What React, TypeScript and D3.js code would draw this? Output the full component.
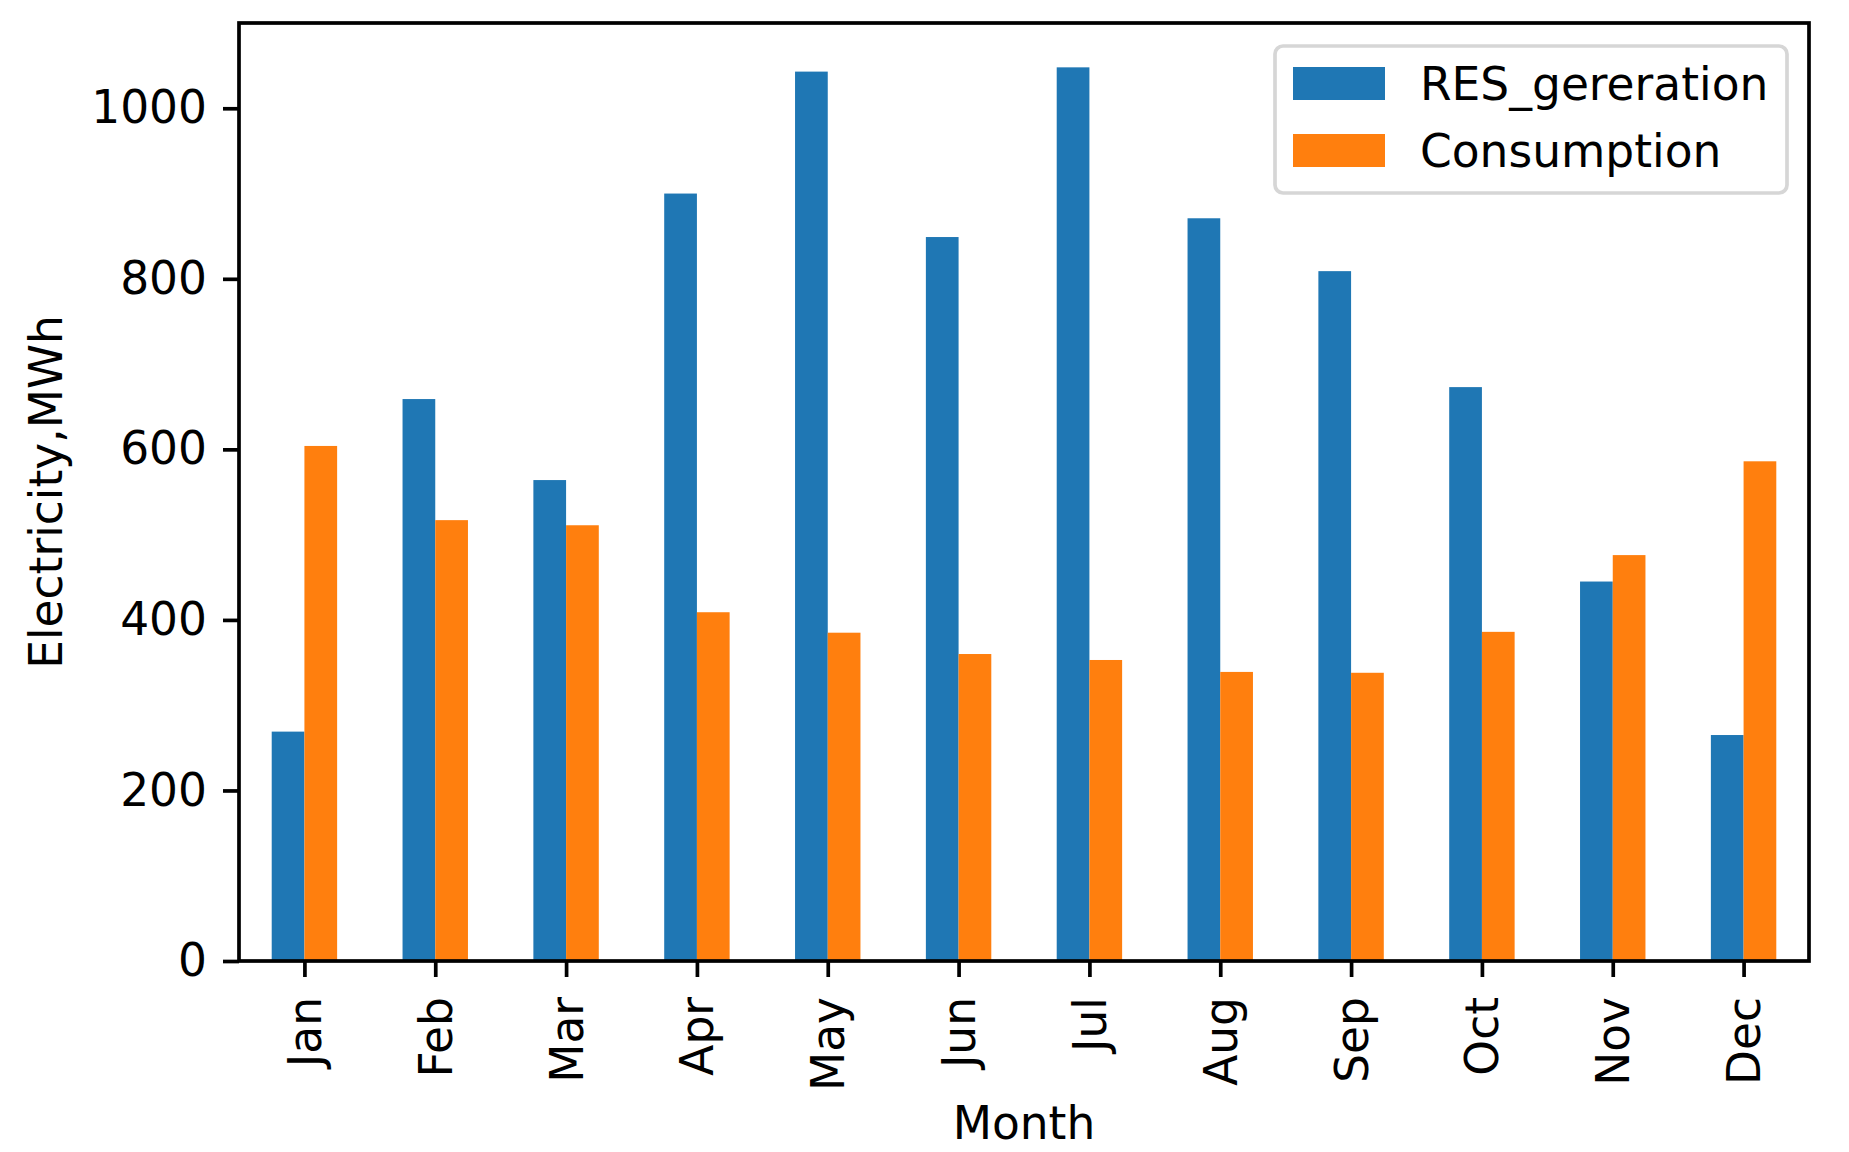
import { useEffect, useRef } from "react";
import * as d3 from "d3";

const months = ["Jan", "Feb", "Mar", "Apr", "May", "Jun", "Jul", "Aug", "Sep", "Oct", "Nov", "Dec"];
const resGeneration = [269, 659, 564, 900, 1043, 849, 1048, 871, 809, 673, 445, 265];
const consumption = [604, 517, 511, 409, 385, 360, 353, 339, 338, 386, 476, 586];
const seriesNames = ["RES_gereration", "Consumption"];
const seriesColors = ["#1f77b4", "#ff7f0e"];
const yTicks = [0, 200, 400, 600, 800, 1000];

const width = 1849;
const height = 1152;
const margin = { top: 23, right: 40, bottom: 191, left: 239 };
const font = "'DejaVu Sans', sans-serif";
const fontSize = 45.5;

export default function App() {
  const svgRef = useRef<SVGSVGElement>(null);

  useEffect(() => {
    if (!svgRef.current) return;
    const svg = d3.select(svgRef.current).attr("width", width).attr("height", height);
    svg.selectAll("*").remove();

    const innerWidth = width - margin.left - margin.right;
    const innerHeight = height - margin.top - margin.bottom;

    // pandas style: categories at 0..11, xlim -0.5..11.5, total bar width 0.5
    const x = d3.scaleLinear().domain([-0.5, months.length - 0.5]).range([0, innerWidth]);
    const y = d3.scaleLinear().domain([0, 1100]).range([innerHeight, 0]);
    const barW = x(0.25) - x(0);

    const g = svg.append("g").attr("transform", `translate(${margin.left},${margin.top})`);

    const series = [resGeneration, consumption];
    series.forEach((vals, si) => {
      g.append("g")
        .selectAll("rect")
        .data(vals)
        .join("rect")
        .attr("x", (_, i) => x(i) - barW + si * barW)
        .attr("y", (d) => y(d))
        .attr("width", barW)
        .attr("height", (d) => y(0) - y(d))
        .attr("fill", seriesColors[si]);
    });

    // frame
    g.append("rect")
      .attr("width", innerWidth)
      .attr("height", innerHeight)
      .attr("fill", "none")
      .attr("stroke", "#000")
      .attr("stroke-width", 3.7);

    // y axis
    const yAxis = g.append("g").call(
      d3.axisLeft(y).tickValues(yTicks).tickFormat(d3.format("d")).tickSize(16).tickPadding(16)
    );
    yAxis.select(".domain").remove();
    yAxis.selectAll("line").attr("stroke-width", 3.7);
    yAxis.selectAll("text").attr("font-family", font).attr("font-size", fontSize).attr("fill", "#000");

    // x axis
    const xAxis = g
      .append("g")
      .attr("transform", `translate(0,${innerHeight})`)
      .call(
        d3.axisBottom(x)
          .tickValues(d3.range(months.length))
          .tickFormat((d) => months[d as number])
          .tickSize(16)
          .tickPadding(16)
      );
    xAxis.select(".domain").remove();
    xAxis.selectAll("line").attr("stroke-width", 3.7);
    xAxis
      .selectAll("text")
      .attr("font-family", font)
      .attr("font-size", fontSize)
      .attr("fill", "#000")
      .attr("transform", "rotate(-90)")
      .attr("x", -36)
      .attr("y", 0)
      .attr("dy", "0.35em")
      .attr("text-anchor", "end");

    // axis labels
    svg.append("text")
      .attr("x", margin.left + innerWidth / 2)
      .attr("y", 1139)
      .attr("text-anchor", "middle")
      .attr("font-family", font)
      .attr("font-size", fontSize)
      .text("Month");

    svg.append("text")
      .attr("transform", `translate(62,${margin.top + innerHeight / 2}) rotate(-90)`)
      .attr("text-anchor", "middle")
      .attr("font-family", font)
      .attr("font-size", fontSize)
      .text("Electricity,MWh");

    // legend
    const legend = svg.append("g").attr("transform", "translate(1275,46)");
    legend.append("rect")
      .attr("width", 512)
      .attr("height", 147)
      .attr("rx", 8)
      .attr("fill", "#fff")
      .attr("fill-opacity", 0.8)
      .attr("stroke", "#d6d6d6")
      .attr("stroke-width", 3.7);
    seriesNames.forEach((name, i) => {
      const row = legend.append("g").attr("transform", `translate(0,${21 + i * 67})`);
      row.append("rect").attr("x", 18).attr("width", 92).attr("height", 33).attr("fill", seriesColors[i]);
      row.append("text")
        .attr("x", 145)
        .attr("y", 33)
        .attr("font-family", font)
        .attr("font-size", fontSize)
        .text(name);
    });
  }, []);

  return (
    <div style={{ position: "absolute", left: 0, top: 0 }}>
      <svg ref={svgRef} style={{ display: "block" }} />
    </div>
  );
}
